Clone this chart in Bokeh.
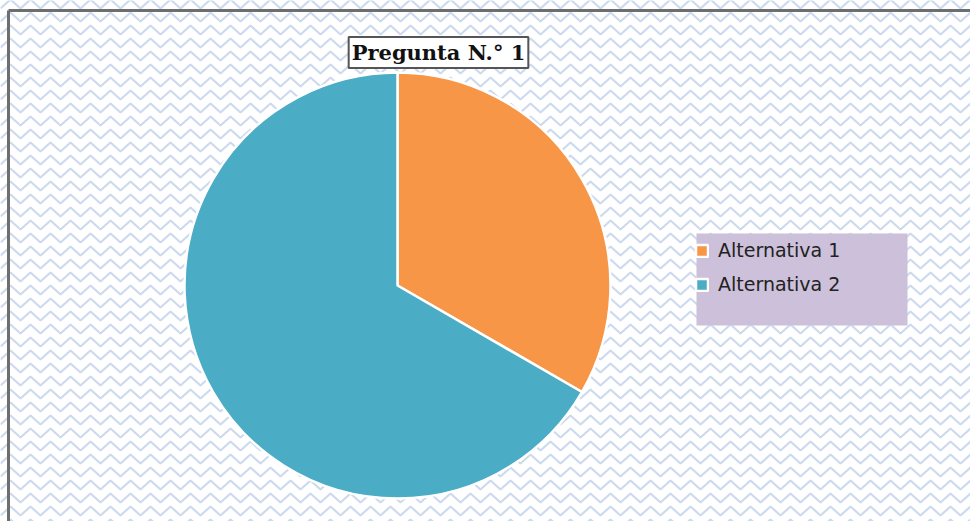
from math import pi
import numpy as np
from bokeh.plotting import figure
from bokeh.models import ColumnDataSource, Label, Legend, LegendItem
from bokeh.embed import file_html
from bokeh.resources import INLINE

# ---- data ----
categories = ["Alternativa 1", "Alternativa 2"]
values = [10, 20]
colors = ["#f79646", "#4bacc6"]
title_text = "Pregunta N.° 1"

W, H = 970, 521
p = figure(width=W, height=H, x_range=(0, W), y_range=(0, H),
           output_backend="svg", toolbar_location=None, min_border=0)
p.axis.visible = False
p.grid.visible = False
p.outline_line_color = None
p.background_fill_color = "white"
p.border_fill_color = "white"

# zigzag background texture (decoration)
xs_bg, ys_bg = [], []
period = 20
amp = 9
row = 13
for y0 in np.arange(-20, H + 20, row):
    xx = np.arange(0, W + period, period / 2)
    yy = np.where((np.arange(len(xx)) % 2) == 0, y0, y0 + amp)
    xs_bg.append(list(xx))
    ys_bg.append(list(yy))
p.multi_line(xs_bg, ys_bg, line_color="#c4d3eb", line_width=2.2, line_alpha=0.85)

# chart border (top and left)
p.line([8, 8], [0, H - 10], line_color="#6e6e6e", line_width=3)
p.line([8, W], [H - 10, H - 10], line_color="#6e6e6e", line_width=3)

# pie
total = sum(values)
src = ColumnDataSource(dict(cat=categories, val=values, color=colors))
cx, cy, r = 397, H - 285, 213
# clockwise from 12 o'clock
starts, ends = [], []
a = pi / 2
for v in values:
    ang = v / total * 2 * pi
    starts.append(a - ang)
    ends.append(a)
    a -= ang
src.data["start"] = starts
src.data["end"] = ends
wr = p.wedge(x=cx, y=cy, radius=r, start_angle="start", end_angle="end",
             fill_color="color", line_color="white", line_width=2.5, source=src)

# legend background
p.quad(left=696, right=907, bottom=H - 325, top=H - 233,
       fill_color="#ccc0da", line_color=None)

legend = Legend(items=[LegendItem(label=c, renderers=[wr], index=i)
                       for i, c in enumerate(categories)],
                location=(694, H - 295), orientation="vertical",
                background_fill_alpha=0, border_line_color=None,
                label_text_font="DejaVu Sans", label_text_font_size="19px",
                label_text_color="#222222",
                glyph_width=15, glyph_height=15, label_height=20,
                spacing=12, padding=8, margin=0, label_standoff=9)
p.add_layout(legend, "center")

# title
p.add_layout(Label(x=438, y=H - 52, text=title_text, text_align="center",
                   text_baseline="middle", text_font="DejaVu Serif",
                   text_font_style="bold", text_font_size="21px",
                   text_color="#111111",
                   background_fill_color="white", border_line_color="#555555",
                   border_line_width=2, padding=3))

open("out.html", "w").write(file_html(p, INLINE))
